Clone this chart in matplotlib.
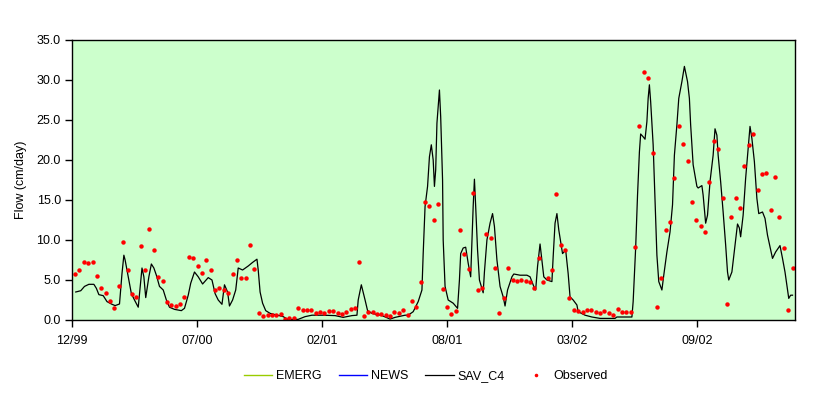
import numpy as np
import pandas as pd
import matplotlib
matplotlib.use("Agg")
import matplotlib.pyplot as plt

# axis starts here, major ticks every 200 days
axis_start = pd.Timestamp("1999-12-31")
axis_days = 1157
tick_step_days = 200

# weekly observed flow (cm/day), first sample 2000-01-05
obs_start = "2000-01-05"
obs_flow = [
    5.8, 6.2, 7.3, 7.1, 7.2, 5.5, 4.0, 3.4, 2.4, 1.5,
    4.2, 9.7, 6.2, 3.2, 2.9, 9.2, 6.2, 11.4, 8.7, 5.4,
    4.9, 2.3, 1.9, 1.8, 2.0, 2.9, 7.9, 7.7, 6.8, 5.9,
    7.5, 6.2, 3.8, 4.0, 3.7, 3.4, 5.7, 7.5, 5.3, 5.3,
    9.4, 6.4, 0.9, 0.55, 0.65, 0.65, 0.65, 0.8, 0.1, 0.2,
    0.3, 1.55, 1.3, 1.3, 1.3, 0.9, 1.05, 0.92, 1.17, 1.17,
    0.92, 0.79, 1.04, 1.42, 1.54, 7.3, 0.55, 1.05, 1.05, 0.75,
    0.75, 0.6, 0.55, 1.05, 0.9, 1.3, 0.6, 2.4, 1.6, 4.8,
    14.7, 14.2, 12.5, 14.5, 3.9, 1.67, 0.8, 1.17, 11.3, 8.2,
    6.4, 15.9, 3.8, 4.0, 10.7, 10.3, 6.5, 0.9, 2.8, 6.5,
    5.0, 4.9, 5.0, 4.9, 4.8, 4.0, 7.8, 4.7, 5.3, 6.2,
    15.8, 9.4, 8.8, 2.7, 1.25, 1.1, 1.0, 1.25, 1.25, 1.0,
    0.9, 1.1, 0.9, 0.6, 1.4, 1.0, 1.0, 1.0, 9.1, 24.3,
    31.0, 30.2, 20.9, 1.67, 5.3, 11.2, 12.2, 17.7, 24.2, 22.0,
    19.9, 14.7, 12.5, 11.8, 11.0, 17.3, 22.4, 21.4, 15.2, 2.0,
    12.9, 15.3, 14.0, 19.3, 21.9, 23.2, 16.3, 18.2, 18.4, 13.8,
    17.9, 12.9, 9.0, 1.3, 6.5,
]

# SAV_C4 simulated flow, days after axis_start
sim_day = [
    6, 14, 20, 27, 35, 39, 43, 50, 56, 63, 69, 76, 80, 83, 85, 90, 95, 100,
    106, 112, 115, 118, 123, 127, 131, 135, 140, 146, 151, 156, 164, 175,
    180, 186, 190, 196, 202, 209, 218, 224, 229, 234, 240, 244, 249, 252,
    257, 262, 266, 273, 282, 289, 296, 298, 301, 305, 310, 317, 338, 346,
    362, 373, 384, 402, 421, 434, 448, 456, 458, 463, 469, 473, 480, 496,
    509, 517, 533, 538, 546, 554, 560, 562, 565, 569, 572, 575, 578, 580,
    582, 584, 588, 590, 593, 594, 597, 602, 610, 617, 620, 622, 626, 630,
    634, 638, 640, 642, 644, 646, 649, 652, 658, 660, 664, 669, 673, 676,
    680, 685, 690, 693, 697, 704, 707, 717, 728, 733, 739, 742, 745, 749,
    752, 755, 760, 768, 770, 773, 776, 779, 785, 790, 794, 797, 802, 808,
    810, 821, 832, 845, 869, 872, 896, 898, 902, 905, 908, 910, 914, 917,
    920, 922, 924, 926, 930, 933, 936, 939, 944, 947, 952, 957, 961, 964,
    968, 971, 976, 980, 985, 988, 990, 994, 1000, 1002, 1008, 1010, 1014,
    1017, 1021, 1026, 1029, 1032, 1034, 1038, 1042, 1046, 1049, 1051, 1056,
    1061, 1065, 1068, 1070, 1074, 1078, 1082, 1085, 1088, 1092, 1096, 1099,
    1105, 1109, 1113, 1121, 1126, 1133, 1137, 1141, 1147, 1150, 1153,
]
sim_flow = [
    3.5, 3.66, 4.2, 4.46, 4.46, 3.96, 3.17, 3.04, 2.3, 2.0, 1.8, 2.0, 5.8, 8.1, 7.5, 5.4, 3.3, 2.5,
    1.6, 6.5, 5.4, 2.8, 5.4, 7.0, 6.5, 5.6, 4.2, 3.75, 2.5, 1.6, 1.33, 1.17,
    1.46, 3.1, 4.6, 6.0, 5.4, 4.5, 5.3, 5.0, 3.3, 2.5, 1.96, 4.4, 3.5, 1.75,
    2.5, 3.75, 6.5, 6.25, 6.75, 7.2, 7.6, 6.25, 3.5, 2.1, 1.17, 0.83, 0.42, 0.05,
    0.08, 0.42, 0.6, 0.6, 0.55, 0.33, 0.55, 0.6, 2.5, 4.4, 2.5, 1.17, 0.83, 0.55,
    0.12, 0.33, 0.6, 0.6, 1.04, 2.3, 3.75, 8.3, 14.2, 16.7, 20.4, 21.9, 20.0, 16.7,
    18.75, 24.6, 28.75, 25.4, 17.5, 10.0, 4.2, 2.5, 2.1, 1.46, 5.0, 8.3, 9.0, 9.1,
    7.1, 5.4, 10.0, 14.2, 17.6, 14.2, 8.75, 5.0, 3.4, 6.0, 10.0, 12.1, 13.3, 11.7,
    7.5, 4.2, 2.9, 1.75, 3.75, 5.4, 5.75, 5.6, 5.6, 5.4, 4.2, 3.75, 6.7, 9.5,
    7.5, 5.4, 5.0, 4.8, 7.9, 12.1, 13.3, 11.25, 8.3, 8.75, 5.8, 2.9, 2.5, 1.875,
    1.04, 0.6, 0.375, 0.2, 0.2, 0.375, 0.375, 2.3, 9.0, 15.6, 21.0, 23.25, 22.9, 22.6,
    24.8, 27.7, 29.4, 27.3, 21.9, 14.8, 8.1, 4.8, 3.75, 5.6, 8.5, 11.0, 14.4, 20.6,
    24.4, 27.7, 29.8, 31.7, 29.8, 27.7, 24.4, 19.4, 16.7, 16.5, 16.8, 15.6, 12.1,
    13.1, 17.3, 20.6, 23.9, 23.1, 20.6, 17.3, 13.5, 9.4, 6.0, 5.0, 6.0,
    9.4, 12.0, 11.5, 10.4, 13.1, 17.7, 21.5, 24.2, 22.7, 19.8, 15.2, 13.3,
    13.5, 12.7, 10.6, 7.7, 8.5, 9.3, 7.7, 6.0, 2.7, 3.1, 3.1,
]

tick_labels = ["12/99", "07/00", "02/01", "08/01", "03/02", "09/02"]

plt.rcParams["font.family"] = ["Liberation Sans", "DejaVu Sans"]

obs_dates = pd.date_range(obs_start, periods=len(obs_flow), freq="7D")
sim_dates = axis_start + pd.to_timedelta(sim_day, unit="D")

fig = plt.figure(figsize=(8.3, 3.97), dpi=100)
ax = fig.add_axes([72 / 830, 1 - 320 / 397, (795 - 72) / 830, (320 - 40) / 397])
ax.set_facecolor("#CCFFCC")

# EMERG and NEWS have no visible data in the chart, legend only
ax.plot([], [], color="#99CC00", lw=1, label="EMERG")
ax.plot([], [], color="#0000FF", lw=1, label="NEWS")
ax.plot(sim_dates, sim_flow, color="black", lw=0.9, label="SAV_C4")
ax.plot(obs_dates, obs_flow, ls="none", marker="o", ms=3.2, mfc="#FF0000",
        mec="#FF0000", mew=0, label="Observed")

ax.set_xlim(axis_start, axis_start + pd.Timedelta(days=axis_days))
ax.set_ylim(0, 35)
ax.set_yticks(np.arange(0, 35.1, 5))
ax.set_yticklabels([f"{v:.1f}" for v in np.arange(0, 35.1, 5)])
ticks = [axis_start + pd.Timedelta(days=tick_step_days * k) for k in range(len(tick_labels))]
ax.set_xticks(ticks)
ax.set_xticklabels(tick_labels)

ax.tick_params(axis="both", direction="out", length=5, width=1, labelsize=9, colors="black")
ax.tick_params(axis="x", pad=6)
ax.tick_params(axis="y", pad=3)
for s in ax.spines.values():
    s.set_color("black")
    s.set_linewidth(1)

ax.set_ylabel("Flow (cm/day)", fontsize=9, labelpad=7)

fig.legend(loc="center", bbox_to_anchor=(426 / 830, 1 - 376 / 397), ncol=4, frameon=False,
           fontsize=9, handlelength=2.25, handletextpad=0.3, columnspacing=1.4,
           markerscale=0.8)

fig.savefig("out.png", dpi=100)
